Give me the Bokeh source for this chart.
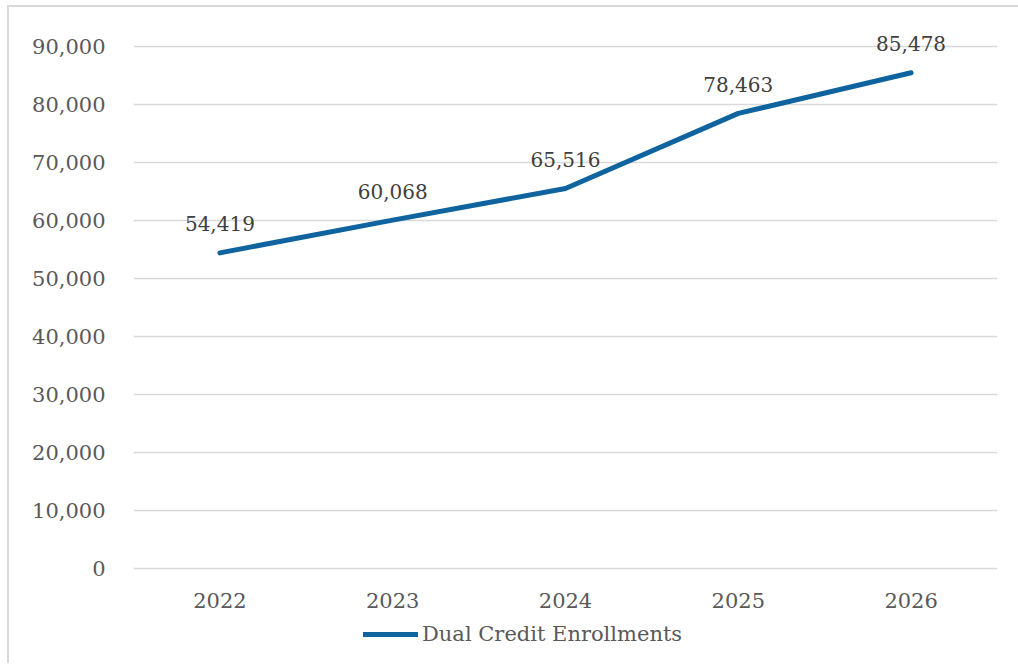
from bokeh.plotting import figure
from bokeh.models import (Range1d, FactorRange, ColumnDataSource, LabelSet,
                          Legend, LegendItem, NumeralTickFormatter, FixedTicker)
from bokeh.core.properties import value
from bokeh.embed import file_html
from bokeh.resources import INLINE

years = ["2022", "2023", "2024", "2025", "2026"]
enrollments = [54419, 60068, 65516, 78463, 85478]
y_ticks = [0, 10000, 20000, 30000, 40000, 50000, 60000, 70000, 80000, 90000]

FONT = "DejaVu Serif"
FS = "21px"
src = ColumnDataSource(dict(x=years, y=enrollments,
                            lbl=[f"{v:,}" for v in enrollments]))
cat_src = ColumnDataSource(dict(x=years, y=[0] * len(years), lbl=years))

# vertical layout (screen px): frame top 26, zero line 568, frame bottom 663
PX_PER_UNIT = 522 / 90000
TOP, ZERO, BOTTOM = 26, 568, 663
FH = BOTTOM - TOP
p = figure(frame_width=864, frame_height=FH, output_backend="svg",
           toolbar_location=None,
           x_range=FactorRange(*years, range_padding=0),
           y_range=Range1d(-(BOTTOM - ZERO) / PX_PER_UNIT, (ZERO - TOP) / PX_PER_UNIT),
           min_border_left=124, min_border_right=21, min_border_top=19,
           min_border_bottom=0)
p.margin = (5, 0, 0, 7)
p.styles = {"border-left": "2px solid #d9d9d9", "border-top": "2px solid #d9d9d9"}
p.outline_line_color = None
p.background_fill_color = "white"
p.border_fill_color = "white"

r = p.line("x", "y", source=src, line_color="#0f64a0", line_width=5,
           line_cap="round", line_join="round")

labels = LabelSet(x="x", y="y", text="lbl", source=src, y_offset=29,
                  text_align="center", text_baseline="middle",
                  text_font=value(FONT), text_font_size="20px",
                  text_color="#404040")
p.add_layout(labels)

# category (year) labels under the zero line
cat_labels = LabelSet(x="x", y="y", text="lbl", source=cat_src, y_offset=-32,
                      text_align="center", text_baseline="middle",
                      text_font=value(FONT), text_font_size=FS,
                      text_color="#595959")
p.add_layout(cat_labels)
p.xaxis.visible = False

p.xgrid.grid_line_color = None
p.ygrid.grid_line_color = "#d9d9d9"
p.ygrid.grid_line_width = 1.5
p.yaxis.ticker = FixedTicker(ticks=y_ticks)
p.yaxis.formatter = NumeralTickFormatter(format="0,0")
ax = p.yaxis[0]
ax.axis_line_color = None
ax.major_tick_line_color = None
ax.minor_tick_line_color = None
ax.major_label_text_font = FONT
ax.major_label_text_font_size = FS
ax.major_label_text_color = "#595959"
ax.major_label_standoff = 22

legend = Legend(items=[LegendItem(label="Dual Credit Enrollments", renderers=[r])],
                orientation="horizontal", location=(230, BOTTOM - 646),
                label_text_font=FONT, label_text_font_size=FS,
                label_text_color="#595959", glyph_width=55, label_standoff=4,
                border_line_color=None, background_fill_alpha=0,
                margin=0, padding=0)
p.add_layout(legend, "center")

open("out.html", "w").write(file_html(p, INLINE))
